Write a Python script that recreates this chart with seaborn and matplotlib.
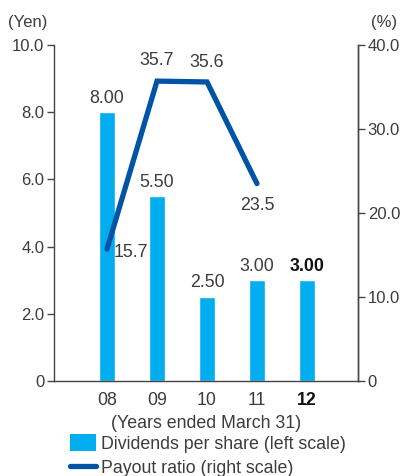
import matplotlib
matplotlib.use("Agg")
import matplotlib.pyplot as plt
from matplotlib.patches import Patch
from matplotlib.lines import Line2D
import seaborn as sns
import pandas as pd

# Data
years = ["08", "09", "10", "11", "12"]
dividends = [8.00, 5.50, 2.50, 3.00, 3.00]
payout_years = ["08", "09", "10", "11"]
payout_ratio = [15.7, 35.7, 35.6, 23.5]
left_ticks = [0, 2.0, 4.0, 6.0, 8.0, 10.0]
left_tick_labels = ["0", "2.0", "4.0", "6.0", "8.0", "10.0"]
right_ticks = [0, 10.0, 20.0, 30.0, 40.0]
right_tick_labels = ["0", "10.0", "20.0", "30.0", "40.0"]

BAR_COLOR = "#00AEEF"
LINE_COLOR = "#0054A6"
TEXT_COLOR = "#3C3C3C"
AXIS_COLOR = "#444444"

sns.set_theme(style="white")
plt.rcParams["font.family"] = ["Liberation Sans", "DejaVu Sans"]
FS = 12
FS_WIDE = 12.8

fig = plt.figure(figsize=(4.02, 4.76), dpi=100)
ax = fig.add_axes([54 / 402, 1 - 381 / 476, (358 - 54) / 402, (381 - 45) / 476])

df_bar = pd.DataFrame({"year": years, "dividend": dividends})
sns.barplot(data=df_bar, x="year", y="dividend", color=BAR_COLOR,
            width=0.32, saturation=1, ax=ax)
ax.set_xlim(-1.06, 5.02)
ax.set_ylim(0, 10.0)
ax.set_yticks(left_ticks)
ax.set_yticklabels(left_tick_labels)
ax.set_xlabel("(Years ended March 31)", fontsize=FS_WIDE, color=TEXT_COLOR, labelpad=4)
ax.set_ylabel("")
ax.tick_params(axis="y", direction="out", length=5, width=1, color=AXIS_COLOR,
               labelsize=FS, labelcolor=TEXT_COLOR, pad=2, left=True)
ax.tick_params(axis="x", length=0, labelsize=FS_WIDE, labelcolor=TEXT_COLOR, pad=8)
for lbl in ax.get_xticklabels():
    if lbl.get_text() == "12":
        lbl.set_fontweight("bold")
        lbl.set_color("#111111")

ax.spines["top"].set_visible(False)
for s in ["left", "bottom", "right"]:
    ax.spines[s].set_color(AXIS_COLOR)
    ax.spines[s].set_linewidth(1)

# Bar value labels
for i, v in enumerate(dividends):
    bold = (years[i] == "12")
    ax.text(i, v + 0.42, f"{v:.2f}", ha="center", va="center", fontsize=FS_WIDE,
            color="#111111" if bold else TEXT_COLOR,
            fontweight="bold" if bold else "normal")

# Payout ratio on right axis
ax2 = ax.twinx()
df_line = pd.DataFrame({"pos": range(len(payout_years)), "ratio": payout_ratio})
sns.lineplot(data=df_line, x="pos", y="ratio", color=LINE_COLOR, linewidth=3.8,
             ax=ax2, solid_capstyle="round", solid_joinstyle="miter")
ax2.set_ylim(0, 40.0)
ax2.set_xlim(-1.06, 5.02)
ax2.set_yticks(right_ticks)
ax2.set_yticklabels(right_tick_labels)
ax2.set_ylabel("")
ax2.set_xlabel("")
ax2.tick_params(axis="y", direction="out", length=5, width=1, color=AXIS_COLOR,
                labelsize=FS, labelcolor=TEXT_COLOR, pad=2, right=True)
for s in ["top", "left", "bottom"]:
    ax2.spines[s].set_visible(False)
ax2.spines["right"].set_color(AXIS_COLOR)
ax2.spines["right"].set_linewidth(1)

# Line value labels
line_offsets = [(0.48, -0.4), (0.0, 2.5), (0.0, 2.3), (0.0, -2.6)]
for i, v in enumerate(payout_ratio):
    dx, dy = line_offsets[i]
    ax2.text(i + dx, v + dy, f"{v:.1f}", ha="center", va="center",
             fontsize=FS_WIDE, color=TEXT_COLOR)

# Unit labels
fig.text(28 / 402, 1 - 22 / 476, "(Yen)", ha="center", va="center", fontsize=FS, color=TEXT_COLOR)
fig.text(384 / 402, 1 - 22 / 476, "(%)", ha="center", va="center", fontsize=FS, color=TEXT_COLOR)

# Legend
handles = [Patch(facecolor=BAR_COLOR, edgecolor="none"),
           Line2D([0], [0], color=LINE_COLOR, linewidth=3.8, solid_capstyle="round")]
labels = ["Dividends per share (left scale)", "Payout ratio (right scale)"]
fig.legend(handles, labels, loc="upper left", bbox_to_anchor=(70 / 402, 1 - 434 / 476),
           frameon=False, fontsize=FS_WIDE, labelcolor=TEXT_COLOR, handlelength=1.45,
           handleheight=1.1, handletextpad=0.3, labelspacing=0.35, borderaxespad=0,
           borderpad=0)

fig.savefig("out.png", dpi=100)
